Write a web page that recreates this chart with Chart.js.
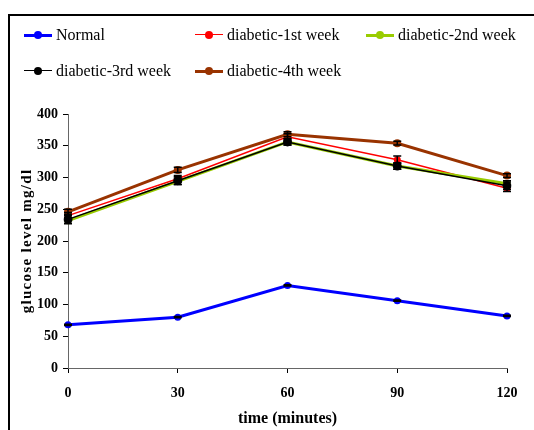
<!DOCTYPE html>
<html>
<head>
<meta charset="utf-8">
<script src="https://cdn.jsdelivr.net/npm/chart.js@4.4.0/dist/chart.umd.min.js"></script>
<style>
    html, body { margin: 0; padding: 0; background: #fff; }
    #wrap { position: relative; width: 534px; height: 430px; overflow: hidden; }
    #frame {
        position: absolute; left: 8px; top: 14px; width: 700px; height: 600px;
        border-left: 2px solid #000; border-top: 2px solid #000; box-sizing: border-box;
    }
    #grafico { position: absolute; left: 0; top: 0; }
    #leyenda { position: absolute; left: 0; top: 0; width: 534px; height: 100px;
        font-family: 'Liberation Serif', 'Times New Roman', serif; font-size: 16px; color: #000; }
    .item { position: absolute; height: 20px; line-height: 20px; white-space: nowrap; }
    .item .muestra { position: absolute; left: 0; top: 10px; width: 28px; }
    .item .punto { position: absolute; left: 10px; width: 8px; height: 8px; border-radius: 50%; top: 6px; }
    .item span.txt { position: absolute; left: 32px; top: 0; }
</style>
</head>
<body>
<div id="wrap">
    <div id="frame"></div>
    <canvas id="grafico" width="534" height="430"></canvas>
    <div id="leyenda"></div>
</div>
<script>
// Tiempos (minutos) y niveles de glucosa por grupo
const tiempos = ['0', '30', '60', '90', '120'];
const normal = [68, 80, 130, 106, 82];
const semana1 = [240, 298, 364, 328, 283];
const semana2 = [232, 294, 356, 318, 290];
const semana3 = [234, 295, 356, 318, 287];
const semana4 = [246, 312, 368, 354, 303];

// Error estándar de cada punto
const errNormal = [1, 1, 1, 1, 1];
const errSemana1 = [5, 5, 5, 6, 5];
const errSemana2 = [5, 5, 5, 5, 5];
const errSemana3 = [6, 6, 5, 5, 6];
const errSemana4 = [4, 4, 4, 3, 3];

const nombres = ['Normal', 'diabetic-1st week', 'diabetic-2nd week', 'diabetic-3rd week', 'diabetic-4th week'];
const colores = ['#0000ff', '#ff0000', '#99cc00', '#000000', '#993300'];
const grosores = [3, 1.5, 3, 1.5, 3];
const radios = [3.5, 3.5, 3.5, 4.5, 4];
const series = [normal, semana1, semana2, semana3, semana4];
const errores = [errNormal, errSemana1, errSemana2, errSemana3, errSemana4];
const ordenes = [4, 3, 2, 1, 0];

const serif = "'Liberation Serif', 'Times New Roman', serif";
const tituloY = 'glucose level mg/dl';

// Barras de error dibujadas con las escalas del gráfico
const barrasError = {
    id: 'barrasError',
    afterDatasetsDraw(chart) {
        const ctx = chart.ctx;
        const y = chart.scales.y;
        ctx.save();
        ctx.strokeStyle = '#000';
        ctx.lineWidth = 1.5;
        chart.data.datasets.forEach((ds, i) => {
            const meta = chart.getDatasetMeta(i);
            meta.data.forEach((pt, j) => {
                const e = ds.errores[j];
                if (!e) return;
                const top = y.getPixelForValue(ds.data[j] + e);
                const bot = y.getPixelForValue(ds.data[j] - e);
                ctx.beginPath();
                ctx.moveTo(pt.x, top); ctx.lineTo(pt.x, bot);
                ctx.moveTo(pt.x - 4, top); ctx.lineTo(pt.x + 4, top);
                ctx.moveTo(pt.x - 4, bot); ctx.lineTo(pt.x + 4, bot);
                ctx.stroke();
            });
        });
        ctx.restore();
    }
};

// Título del eje Y con espaciado entre letras
const tituloEjeY = {
    id: 'tituloEjeY',
    afterDraw(chart) {
        const ctx = chart.ctx;
        const area = chart.chartArea;
        ctx.save();
        ctx.translate(27, (area.top + area.bottom) / 2);
        ctx.rotate(-Math.PI / 2);
        ctx.font = `bold 15px ${serif}`;
        ctx.letterSpacing = '1.3px';
        ctx.fillStyle = '#000';
        ctx.textAlign = 'center';
        ctx.textBaseline = 'middle';
        ctx.fillText(tituloY, 0, 0);
        ctx.restore();
    }
};

function crearLeyenda() {
    const cont = document.getElementById('leyenda');
    const pos = [[24, 25], [195, 25], [366, 25], [24, 61], [195, 61]];
    nombres.forEach((n, i) => {
        const item = document.createElement('div');
        item.className = 'item';
        item.style.left = pos[i][0] + 'px';
        item.style.top = pos[i][1] + 'px';
        const h = grosores[i];
        item.innerHTML = `
            <div class="muestra" style="border-top:${h}px solid ${colores[i]};margin-top:${-h / 2}px"></div>
            <div class="punto" style="background:${colores[i]}"></div>
            <span class="txt">${n}</span>`;
        cont.appendChild(item);
    });
}

function initGrafico() {
    const ctx = document.getElementById('grafico');
    new Chart(ctx, {
        type: 'line',
        data: {
            labels: tiempos,
            datasets: series.map((s, i) => ({
                label: nombres[i],
                data: s,
                errores: errores[i],
                borderColor: colores[i],
                backgroundColor: colores[i],
                borderWidth: grosores[i],
                pointRadius: radios[i],
                pointBorderWidth: 0,
                tension: 0,
                fill: false,
                order: ordenes[i]
            }))
        },
        options: {
            responsive: false,
            animation: false,
            layout: { padding: { left: 10, right: 27, top: 114, bottom: 2 } },
            plugins: {
                legend: { display: false },
                tooltip: { enabled: false }
            },
            scales: {
                x: {
                    offset: false,
                    grid: { drawOnChartArea: false, drawTicks: true, tickLength: 5, color: '#000' },
                    border: { color: '#666', width: 1 },
                    ticks: { color: '#000', padding: 12, font: { family: serif, size: 14, weight: 'bold' } },
                    title: { display: true, text: 'time (minutes)', color: '#000', padding: { top: 12, bottom: 0 },
                        font: { family: serif, size: 16, weight: 'bold' } },
                    afterFit(scale) { scale.height = 60; }
                },
                y: {
                    min: 0,
                    max: 400,
                    ticks: { stepSize: 50, color: '#000', padding: 5, font: { family: serif, size: 14, weight: 'bold' } },
                    grid: { drawOnChartArea: false, drawTicks: true, tickLength: 5, color: '#000' },
                    border: { color: '#666', width: 1 },
                    afterFit(scale) { scale.width = 58; }
                }
            }
        },
        plugins: [barrasError, tituloEjeY]
    });
}

crearLeyenda();
initGrafico();
</script>
</body>
</html>
